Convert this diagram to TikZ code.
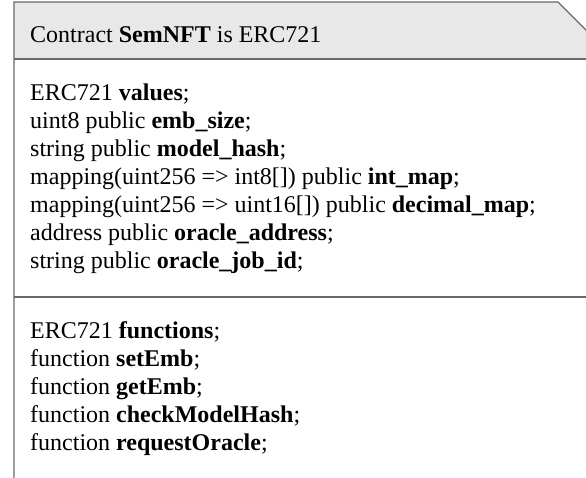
\documentclass[tikz,border=0pt]{standalone}
\usepackage{fontspec}
\setmainfont{Liberation Serif}
\definecolor{hdr}{HTML}{E8E8E8}
\definecolor{edge}{HTML}{6A6A6A}
\begin{document}
\begin{tikzpicture}[x=1pt,y=1pt,
  txt/.style={anchor=base west, inner sep=0pt, font=\fontsize{24}{28}\selectfont},
  border/.style={draw=edge, line width=1.3pt}]
\useasboundingbox (0,0) rectangle (586,478);
\clip (0,0) rectangle (586,478);
% header fill and outline
\fill[hdr] (14,419) -- (14,476) -- (558,476) -- (615,419) -- cycle;
\draw[border] (14,-5) -- (14,476) -- (558,476) -- (620,414);
\draw[border] (14,419) -- (600,419);
\draw[border] (14,181) -- (600,181);
% header
\node[txt] (title) at (30,435) {Contract \textbf{SemNFT} is ERC721};
% values
\node[txt] (v1) at (30,377) {ERC721 \textbf{values};};
\node[txt] (v2) at (30,349) {uint8 public \textbf{emb\_size};};
\node[txt] (v3) at (30,321) {string public \textbf{model\_hash};};
\node[txt] (v4) at (30,293) {mapping(uint256 => int8[]) public \textbf{int\_map};};
\node[txt] (v5) at (30,265) {mapping(uint256 => uint16[]) public \textbf{decimal\_map};};
\node[txt] (v6) at (30,237) {address public \textbf{oracle\_address};};
\node[txt] (v7) at (30,209) {string public \textbf{oracle\_job\_id};};
% functions
\node[txt] (f1) at (30,139) {ERC721 \textbf{functions};};
\node[txt] (f2) at (30,111) {function \textbf{setEmb};};
\node[txt] (f3) at (30,83) {function \textbf{getEmb};};
\node[txt] (f4) at (30,55) {function \textbf{checkModelHash};};
\node[txt] (f5) at (30,27) {function \textbf{requestOracle};};
\end{tikzpicture}
\end{document}
